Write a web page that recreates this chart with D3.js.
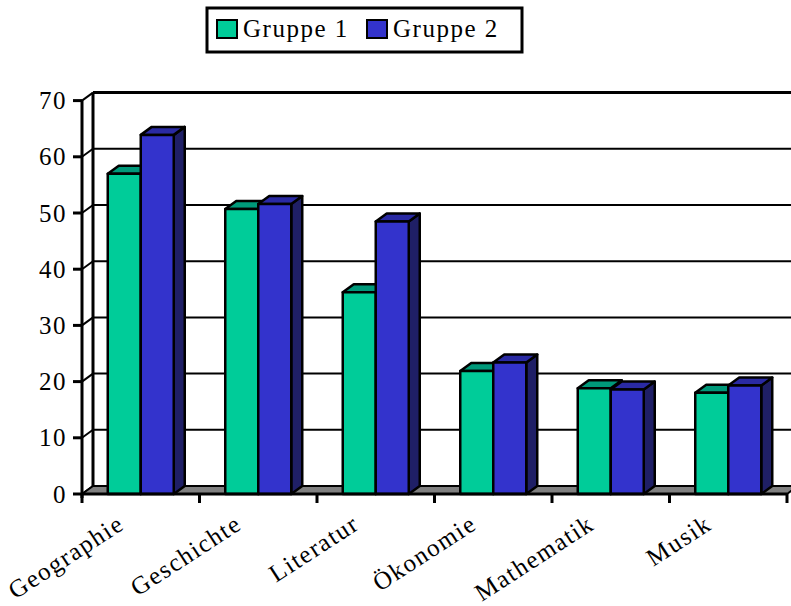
<!DOCTYPE html>
<html>
<head>
<meta charset="utf-8">
<script src="https://cdn.jsdelivr.net/npm/d3@7"></script>
<style>
  html, body { margin: 0; padding: 0; background: #fff; }
  svg { display: block; }
  text { font-family: "Liberation Serif", "Times New Roman", serif; fill: #000; }
</style>
</head>
<body>
<svg id="chart" width="791" height="606"></svg>
<script>
// Chart data
const categories = ["Geographie", "Geschichte", "Literatur", "Ökonomie", "Mathematik", "Musik"];
const seriesNames = ["Gruppe 1", "Gruppe 2"];
const gruppe1 = [57.0, 50.7, 35.9, 21.9, 18.8, 18.0];
const gruppe2 = [63.9, 51.6, 48.5, 23.4, 18.6, 19.3];
const yTicks = [0, 10, 20, 30, 40, 50, 60, 70];

const W = 791, H = 606;
const svg = d3.select("#chart");

// 3D depth offset of the walls and bar tops/sides
const DX = 11, DY = -8;

const colors = {
  "Gruppe 1": { front: "#00CC99", top: "#00997A", side: "#00664D" },
  "Gruppe 2": { front: "#3333CC", top: "#2A2AA3", side: "#1F1F66" }
};

const x = d3.scaleBand().domain(categories).range([82, 787]).paddingInner(0).paddingOuter(0);
const bw = x.bandwidth();
const xs = d3.scaleBand().domain(seriesNames).range([bw / 2 - 33, bw / 2 + 33]);
const y = d3.scaleLinear().domain([0, 70]).range([494, 100.6]);

const x0 = x.range()[0], x1 = x.range()[1];
const fontSize = 25;

// Back wall gridlines and left wall connectors
const grid = svg.append("g");
yTicks.forEach(v => {
  const yy = y(v);
  grid.append("line")
    .attr("x1", x0).attr("y1", yy).attr("x2", x0 + DX).attr("y2", yy + DY)
    .attr("stroke", "#000").attr("stroke-width", 2);
  grid.append("line")
    .attr("x1", x0 + DX).attr("y1", yy + DY).attr("x2", W + 20).attr("y2", yy + DY)
    .attr("stroke", "#000").attr("stroke-width", v === 70 ? 3 : 2);
});
// back wall left edge
grid.append("line")
  .attr("x1", x0 + DX).attr("y1", y(0) + DY).attr("x2", x0 + DX).attr("y2", y(70) + DY)
  .attr("stroke", "#000").attr("stroke-width", 3);

// Floor
svg.append("polygon")
  .attr("points", [[x0, y(0)], [x1, y(0)], [x1 + DX, y(0) + DY], [x0 + DX, y(0) + DY]].map(p => p.join(",")).join(" "))
  .attr("fill", "#808080").attr("stroke", "#000").attr("stroke-width", 2).attr("stroke-linejoin", "round");

// Bars
const barsG = svg.append("g");
categories.forEach((c, i) => {
  const vals = [gruppe1[i], gruppe2[i]];
  seriesNames.forEach((s, j) => {
    const bx0 = x(c) + xs(s), bx1 = bx0 + xs.bandwidth();
    const yt = y(vals[j]), yb = y(0);
    const col = colors[s];
    const g = barsG.append("g")
      .attr("stroke", "#000").attr("stroke-width", 2.5).attr("stroke-linejoin", "round");
    // side face
    g.append("polygon")
      .attr("points", [[bx1, yb], [bx1, yt], [bx1 + DX, yt + DY], [bx1 + DX, yb + DY]].map(p => p.join(",")).join(" "))
      .attr("fill", col.side);
    // top face
    g.append("polygon")
      .attr("points", [[bx0, yt], [bx1, yt], [bx1 + DX, yt + DY], [bx0 + DX, yt + DY]].map(p => p.join(",")).join(" "))
      .attr("fill", col.top);
    // front face
    g.append("rect")
      .attr("x", bx0).attr("y", yt).attr("width", bx1 - bx0).attr("height", yb - yt)
      .attr("fill", col.front);
  });
});

// Front value axis
const axisG = svg.append("g");
axisG.append("line")
  .attr("x1", x0).attr("y1", y(0) + 4).attr("x2", x0).attr("y2", y(70))
  .attr("stroke", "#000").attr("stroke-width", 3);
yTicks.forEach(v => {
  axisG.append("line")
    .attr("x1", x0 - 9).attr("y1", y(v)).attr("x2", x0).attr("y2", y(v))
    .attr("stroke", "#000").attr("stroke-width", 3);
  axisG.append("text")
    .attr("x", x0 - 15).attr("y", y(v) + 8.5)
    .attr("text-anchor", "end")
    .attr("font-size", fontSize)
    .attr("letter-spacing", "1.5px")
    .text(v);
});

// Category axis
axisG.append("line")
  .attr("x1", x0).attr("y1", y(0)).attr("x2", x1).attr("y2", y(0))
  .attr("stroke", "#000").attr("stroke-width", 3);
d3.range(categories.length + 1).forEach(k => {
  const xx = x0 + k * bw;
  axisG.append("line")
    .attr("x1", xx).attr("y1", y(0)).attr("x2", xx).attr("y2", y(0) + 9)
    .attr("stroke", "#000").attr("stroke-width", 3);
});
categories.forEach(c => {
  const cx = x(c) + bw / 2 - 15, cy = 528;
  axisG.append("text")
    .attr("transform", `translate(${cx},${cy}) rotate(-33)`)
    .attr("text-anchor", "end")
    .attr("font-size", fontSize)
    .attr("letter-spacing", "1.5px")
    .text(c);
});

// Legend
const legend = svg.append("g");
legend.append("rect")
  .attr("x", 207).attr("y", 8).attr("width", 315).attr("height", 44)
  .attr("fill", "#fff").attr("stroke", "#000").attr("stroke-width", 3);
const legendX = [217, 367];
seriesNames.forEach((s, j) => {
  legend.append("rect")
    .attr("x", legendX[j]).attr("y", 20).attr("width", 20).attr("height", 18)
    .attr("fill", colors[s].front).attr("stroke", "#000").attr("stroke-width", 2);
  legend.append("text")
    .attr("x", legendX[j] + 26).attr("y", 37)
    .attr("font-size", fontSize)
    .attr("letter-spacing", "1.5px")
    .text(s);
});
</script>
</body>
</html>
